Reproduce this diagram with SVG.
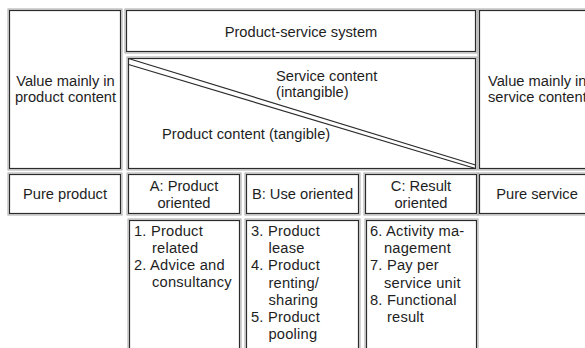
<svg xmlns="http://www.w3.org/2000/svg" width="585" height="348" viewBox="0 0 585 348">
<style>
.halo{fill:none;stroke:#a8a8a8;stroke-width:1}
.box{fill:#fff;stroke:#2b2b2b;stroke-width:1.2}
.t{font-family:"Liberation Sans",Arial,Helvetica,sans-serif;font-size:14.7px;fill:#1e1e1e}
.c{text-anchor:middle}
.l{font-family:"Liberation Sans",Arial,Helvetica,sans-serif;font-size:14.7px;letter-spacing:0.2px;fill:#1e1e1e}
.dl{stroke:#2b2b2b;stroke-width:1.2;fill:none}
</style>
<rect width="585" height="348" fill="#fff"/>

<g id="value-product">
<rect class="halo" x="8" y="9" width="114" height="161"/>
<rect class="box" x="9.5" y="10.5" width="111" height="158"/>
<text class="t c" x="65.5" y="86">Value mainly in</text>
<text class="t c" x="65.5" y="102">product content</text>
</g>

<g id="pss">
<rect class="halo" x="125" y="9" width="352" height="44"/>
<rect class="box" x="126.5" y="10.5" width="349" height="41"/>
<text class="t c" x="301" y="37">Product-service system</text>
</g>

<g id="content">
<rect class="halo" x="127" y="57" width="350" height="113"/>
<rect class="box" x="128.5" y="58.5" width="347" height="110"/>
<text class="t" x="276" y="81">Service content</text>
<text class="t" x="276" y="97">(intangible)</text>
<text class="t" x="162" y="139">Product content (tangible)</text>
</g>

<g id="connectors">
<line class="dl" x1="128.5" y1="58.5" x2="475.5" y2="165"/>
<line class="dl" x1="128.5" y1="64.5" x2="475.5" y2="168.5"/>
</g>

<g id="value-service">
<rect class="halo" x="478" y="9" width="130" height="161"/>
<rect class="box" x="479.5" y="10.5" width="127" height="158"/>
<text class="t" x="488" y="86">Value mainly in</text>
<text class="t" x="488" y="102">service content</text>
</g>

<g id="pure-product">
<rect class="halo" x="8" y="173" width="114" height="42"/>
<rect class="box" x="9.5" y="174.5" width="111" height="39"/>
<text class="t c" x="65" y="199">Pure product</text>
</g>

<g id="a-product">
<rect class="halo" x="127" y="173" width="114" height="42"/>
<rect class="box" x="128.5" y="174.5" width="111" height="39"/>
<text class="t c" x="184" y="191">A: Product</text>
<text class="t c" x="184" y="208">oriented</text>
</g>

<g id="b-use">
<rect class="halo" x="245" y="173" width="115" height="42"/>
<rect class="box" x="246.5" y="174.5" width="112" height="39"/>
<text class="t c" x="302.5" y="199">B: Use oriented</text>
</g>

<g id="c-result">
<rect class="halo" x="364" y="173" width="114" height="42"/>
<rect class="box" x="365.5" y="174.5" width="111" height="39"/>
<text class="t c" x="421" y="191">C: Result</text>
<text class="t c" x="421" y="208">oriented</text>
</g>

<g id="pure-service">
<rect class="halo" x="478" y="173" width="130" height="42"/>
<rect class="box" x="479.5" y="174.5" width="127" height="39"/>
<text class="t c" x="537" y="199">Pure service</text>
</g>

<g id="list-a">
<rect class="halo" x="128" y="219" width="113" height="140"/>
<rect class="box" x="129.5" y="220.5" width="110" height="137"/>
<text class="l" x="134" y="235.5">1. Product</text>
<text class="l" x="152" y="252.5">related</text>
<text class="l" x="134" y="269.5">2. Advice and</text>
<text class="l" x="152" y="286.5">consultancy</text>
</g>

<g id="list-b">
<rect class="halo" x="245" y="219" width="115" height="140"/>
<rect class="box" x="246.5" y="220.5" width="112" height="137"/>
<text class="l" x="251" y="236">3. Product</text>
<text class="l" x="268.5" y="253">lease</text>
<text class="l" x="251" y="270">4. Product</text>
<text class="l" x="268.5" y="287.5">renting/</text>
<text class="l" x="268.5" y="304.5">sharing</text>
<text class="l" x="251" y="321.5">5. Product</text>
<text class="l" x="268.5" y="338.5">pooling</text>
</g>

<g id="list-c">
<rect class="halo" x="365" y="219" width="113" height="140"/>
<rect class="box" x="366.5" y="220.5" width="110" height="137"/>
<text class="l" x="370" y="236">6. Activity ma-</text>
<text class="l" x="384" y="253">nagement</text>
<text class="l" x="370" y="270">7. Pay per</text>
<text class="l" x="384" y="287.5">service unit</text>
<text class="l" x="370" y="304.5">8. Functional</text>
<text class="l" x="387" y="321.5">result</text>
</g>
</svg>
